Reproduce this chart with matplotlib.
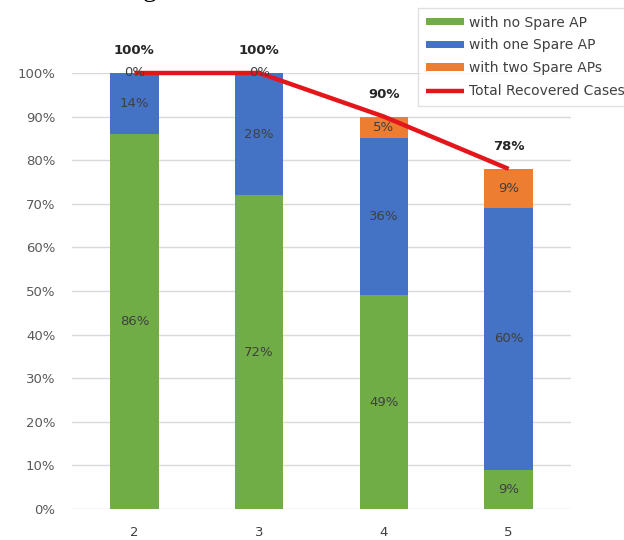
import matplotlib
matplotlib.use("Agg")
import matplotlib.pyplot as plt
import numpy as np

plt.rcParams['font.family'] = ['DejaVu Sans']

categories = ['2', '3', '4', '5']
no_spare = [86, 72, 49, 9]
one_spare = [14, 28, 36, 60]
two_spare = [0, 0, 5, 9]
total = [100, 100, 90, 78]

green = '#70AD47'
blue = '#4472C4'
orange = '#ED7D31'
red = '#E3171B'
txt = '#404040'

fig = plt.figure(figsize=(6.24, 5.4), dpi=100)
ax = fig.add_axes([72 / 624, 31 / 540, 499 / 624, 436 / 540])

x = np.arange(len(categories))
w = 0.39
no = np.array(no_spare) / 100
one = np.array(one_spare) / 100
two = np.array(two_spare) / 100
tot = np.array(total) / 100

b1 = ax.bar(x, no, w, color=green, label='with no Spare AP', zorder=2)
b2 = ax.bar(x, one, w, bottom=no, color=blue, label='with one Spare AP', zorder=2)
b3 = ax.bar(x, two, w, bottom=no + one, color=orange, label='with two Spare APs', zorder=2)
ln, = ax.plot(x, tot, color=red, lw=3.2, label='Total Recovered Cases',
              zorder=3, clip_on=False, solid_capstyle='butt')

# segment labels
for vals, bottoms in [(no, np.zeros(4)), (one, no), (two, no + one)]:
    for xi, v, b in zip(x, vals, bottoms):
        ax.text(xi, b + v / 2, f'{round(v * 100)}%', ha='center', va='center',
                fontsize=9.5, color=txt, zorder=4)

# totals above
for xi, t in zip(x, tot):
    ax.annotate(f'{round(t * 100)}%', (xi, t), xytext=(0, 16), textcoords='offset points',
                ha='center', va='center', fontsize=9.5, fontweight='bold',
                color='#262626', annotation_clip=False)

ax.set_xlim(-0.5, 3.5)
ax.set_ylim(0, 1.0)
ax.set_yticks(np.arange(0, 1.01, 0.1))
ax.set_yticklabels([f'{i}%' for i in range(0, 101, 10)])
ax.set_xticks(x)
ax.set_xticklabels(categories)
ax.tick_params(axis='y', length=0, pad=12, labelsize=9.5, labelcolor='#595959')
ax.tick_params(axis='x', length=0, pad=12, labelsize=9.5, labelcolor='#404040')
ax.grid(axis='y', color='#D9D9D9', lw=1, zorder=0)
for s in ax.spines.values():
    s.set_visible(False)

leg = ax.legend(handles=[b1, b2, b3, ln], loc='upper left',
                bbox_to_anchor=(418 / 624, 1 - 8 / 540), bbox_transform=fig.transFigure,
                borderaxespad=0, fontsize=10, frameon=True, fancybox=False,
                edgecolor='#D9D9D9', handlelength=2.75, handleheight=0.45,
                handletextpad=0.35, labelspacing=0.63, borderpad=0.55,
                labelcolor='#404040')
leg.get_frame().set_linewidth(1)

# cropped caption remnant at top
fig.text(143 / 624, 1 + 4 / 540, 'g', family='Liberation Serif', fontsize=20,
         va='baseline', color='black')

fig.savefig('out.png', dpi=100)
